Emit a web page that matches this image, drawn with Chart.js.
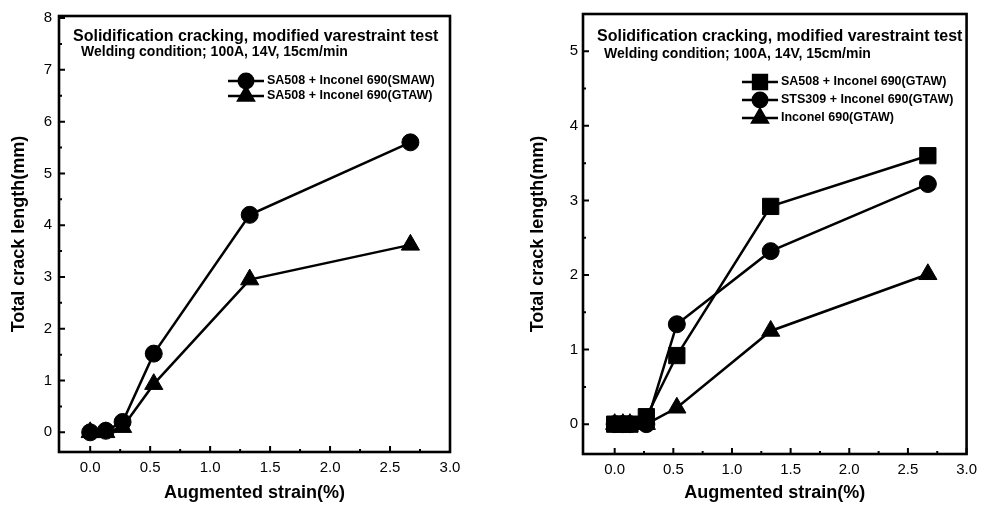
<!DOCTYPE html>
<html><head><meta charset="utf-8">
<script src="https://cdn.jsdelivr.net/npm/chart.js@4.4.0/dist/chart.umd.min.js"></script>
<style>
html,body{margin:0;padding:0;background:#fff;width:984px;height:509px;overflow:hidden}
.box{position:absolute;top:0;height:509px}
</style></head><body>
<div class="box" style="left:0;width:490px"><canvas id="c1" width="490" height="509"></canvas></div>
<div class="box" style="left:500px;width:484px"><canvas id="c2" width="484" height="509"></canvas></div>
<script>
const FONT = "'Liberation Sans', Arial, sans-serif";
const chartTitle = "Solidification cracking, modified varestraint test";
const chartSubtitle = "Welding condition; 100A, 14V, 15cm/min";
const xAxisTitle = "Augmented strain(%)";
const yAxisTitle = "Total crack length(mm)";

const xTicks = [0, 0.5, 1, 1.5, 2, 2.5, 3];
const leftYTicks = [0, 1, 2, 3, 4, 5, 6, 7, 8];
const rightYTicks = [0, 1, 2, 3, 4, 5];

const leftStrain = [0, 0.13, 0.27, 0.53, 1.33, 2.67];
const leftSMAW = [0, 0.03, 0.2, 1.52, 4.2, 5.6];
const leftGTAW = [0, 0, 0.1, 0.93, 2.95, 3.62];
const leftLabels = ["SA508 + Inconel 690(SMAW)", "SA508 + Inconel 690(GTAW)"];

const rightStrain = [0, 0.07, 0.13, 0.27, 0.53, 1.33, 2.67];
const rightSA508 = [0, 0, 0, 0.1, 0.92, 2.92, 3.6];
const rightSTS309 = [0, 0, 0, 0, 1.34, 2.32, 3.22];
const rightInconel = [0, 0, 0, 0, 0.22, 1.25, 2.01];
const rightLabels = ["SA508 + Inconel 690(GTAW)", "STS309 + Inconel 690(GTAW)", "Inconel 690(GTAW)"];

const pts = (xs, ys) => xs.map((x, i) => ({x: x, y: ys[i]}));
const STYLE_R = {circle: 8.5, triangle: 10.5, rect: 11.5};

function ds(label, xs, ys, style) {
  return {
    label: label, data: pts(xs, ys), showLine: true,
    borderColor: '#000', borderWidth: 2.5, backgroundColor: '#000',
    pointStyle: style, pointRadius: STYLE_R[style], pointHoverRadius: STYLE_R[style],
    pointBackgroundColor: '#000', pointBorderColor: '#000', pointBorderWidth: 1
  };
}

function mids(arr) {
  const out = [];
  for (let i = 0; i < arr.length - 1; i++) out.push((arr[i] + arr[i + 1]) / 2);
  return out;
}

const decor = {
  id: 'decor',
  afterDatasetsDraw(chart, args, o) {
    const ctx = chart.ctx, a = chart.chartArea;
    const xs = chart.scales.x, ys = chart.scales.y;
    ctx.save();
    ctx.strokeStyle = '#000';
    ctx.fillStyle = '#000';
    // ticks inside
    ctx.lineWidth = 2;
    const yT = o.yTicks;
    ctx.beginPath();
    yT.forEach(v => { const p = ys.getPixelForValue(v); ctx.moveTo(a.left, p); ctx.lineTo(a.left + 6, p); });
    mids(yT).forEach(v => { const p = ys.getPixelForValue(v); ctx.moveTo(a.left, p); ctx.lineTo(a.left + 3, p); });
    xTicks.forEach(v => { const p = xs.getPixelForValue(v); ctx.moveTo(p, a.bottom); ctx.lineTo(p, a.bottom - 6); });
    mids(xTicks).forEach(v => { const p = xs.getPixelForValue(v); ctx.moveTo(p, a.bottom); ctx.lineTo(p, a.bottom - 3); });
    ctx.stroke();
    // frame
    ctx.lineWidth = 2.6;
    ctx.strokeRect(a.left, a.top, a.right - a.left, a.bottom - a.top);
    // titles
    ctx.textBaseline = 'middle';
    ctx.textAlign = 'left';
    ctx.font = 'bold 16px ' + FONT;
    ctx.fillText(chartTitle, o.t1[0], o.t1[1]);
    ctx.font = 'bold 14px ' + FONT;
    ctx.fillText(chartSubtitle, o.t2[0], o.t2[1]);
    // legend
    ctx.font = 'bold 12.5px ' + FONT;
    chart.data.datasets.forEach((d, i) => {
      const y = o.legY[i];
      ctx.lineWidth = 2.5;
      ctx.beginPath(); ctx.moveTo(o.legX[0], y); ctx.lineTo(o.legX[1], y); ctx.stroke();
      Chart.helpers.drawPoint(ctx, {pointStyle: d.pointStyle, radius: d.pointRadius * 0.85, rotation: 0, borderWidth: 1}, o.legX[2], y);
      ctx.fill();
      ctx.fillText(d.label, o.legX[3], y);
    });
    ctx.restore();
  }
};

function makeChart(id, cfg) {
  return new Chart(document.getElementById(id), {
    type: 'scatter',
    data: {datasets: cfg.datasets},
    plugins: [decor],
    options: {
      responsive: false, animation: false, devicePixelRatio: 1,
      layout: {padding: {top: 14, right: cfg.padRight, bottom: 0, left: 0}},
      plugins: {legend: {display: false}, tooltip: {enabled: false}, decor: cfg.decor},
      scales: {
        x: {
          type: 'linear', min: cfg.xMin, max: 3,
          afterBuildTicks: s => { s.ticks = xTicks.map(v => ({value: v})); },
          afterFit: s => { s.height = cfg.xHeight; },
          ticks: {callback: v => Number(v).toFixed(1), color: '#000', font: {family: FONT, size: 15}, padding: 7, maxRotation: 0, autoSkip: false},
          grid: {display: false, drawTicks: false}, border: {display: false},
          title: {display: true, text: xAxisTitle, color: '#000', font: {family: FONT, size: 18, weight: 'bold'}, padding: {top: 0, bottom: 5}}
        },
        y: {
          type: 'linear', min: cfg.yMin, max: cfg.yMax,
          afterBuildTicks: s => { s.ticks = cfg.yTicks.map(v => ({value: v})); },
          afterFit: s => { s.width = cfg.yWidth; },
          ticks: {callback: v => String(v), color: '#000', font: {family: FONT, size: 15}, padding: cfg.yPad, autoSkip: false},
          grid: {display: false, drawTicks: false}, border: {display: false},
          title: {display: true, text: yAxisTitle, color: '#000', font: {family: FONT, size: 18, weight: 'bold'}, padding: {top: cfg.yTitlePad, bottom: 0}}
        }
      }
    }
  });
}

makeChart('c1', {
  datasets: [ds(leftLabels[0], leftStrain, leftSMAW, 'circle'), ds(leftLabels[1], leftStrain, leftGTAW, 'triangle')],
  xMin: -0.26, yMin: -0.38, yMax: 8.04, yTicks: leftYTicks,
  padRight: 40, xHeight: 57, yWidth: 59, yPad: 7, yTitlePad: 8,
  decor: {yTicks: leftYTicks, t1: [73, 37], t2: [81, 52], legY: [81, 96], legX: [228, 264, 246, 267]}
});

makeChart('c2', {
  datasets: [ds(rightLabels[0], rightStrain, rightSA508, 'rect'), ds(rightLabels[1], rightStrain, rightSTS309, 'circle'), ds(rightLabels[2], rightStrain, rightInconel, 'triangle')],
  xMin: -0.27, yMin: -0.4, yMax: 5.5, yTicks: rightYTicks,
  padRight: 12, xHeight: 55, yWidth: 83, yPad: 5, yTitlePad: 27,
  decor: {yTicks: rightYTicks.concat([5.5]).slice(0, -1), t1: [97, 37], t2: [104, 54], legY: [82, 100, 118], legX: [242, 278, 260, 281]}
});
</script>
</body></html>
